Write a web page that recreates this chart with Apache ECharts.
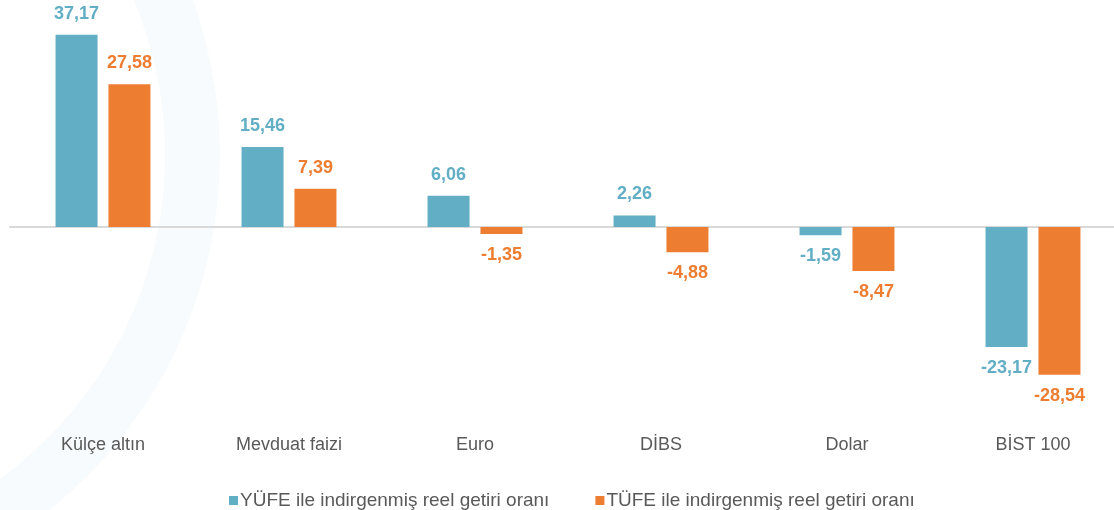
<!DOCTYPE html>
<html>
<head>
<meta charset="utf-8">
<script src="https://cdn.jsdelivr.net/npm/echarts@6/dist/echarts.min.js"></script>
<style>
  html, body { margin: 0; padding: 0; background: #ffffff; }
  #chart { width: 1114px; height: 510px; }
</style>
</head>
<body>
<div id="chart"></div>
<script>
// kategoriler ve seriler
var categories = ['Külçe altın', 'Mevduat faizi', 'Euro', 'DİBS', 'Dolar', 'BİST 100'];
var yufeValues = [37.17, 15.46, 6.06, 2.26, -1.59, -23.17];
var tufeValues = [27.58, 7.39, -1.35, -4.88, -8.47, -28.54];
var seriesNames = ['YÜFE ile indirgenmiş reel getiri oranı', 'TÜFE ile indirgenmiş reel getiri oranı'];

var blue = '#62AEC5';
var orange = '#ED7D31';

// negatif degerlerde etiket cubugun altina
function toItems(arr) {
  return arr.map(function (v) {
    return { value: v, label: { position: v < 0 ? 'bottom' : 'top' } };
  });
}

var chart = echarts.init(document.getElementById('chart'));

var labelStyle = function (color) {
  return {
    show: true,
    distance: 12,
    color: color,
    fontSize: 18,
    fontWeight: 'bold',
    fontFamily: 'Liberation Sans',
    formatter: function (p) { return String(p.value).replace('.', ','); }
  };
};

var option = {
  animation: false,
  backgroundColor: '#ffffff',
  // soluk filigran halkasi
  graphic: [{
    type: 'ring',
    z: -10,
    silent: true,
    shape: { cx: -235, cy: 155, r: 455, r0: 400 },
    style: { fill: '#f8fbfd' }
  }],
  grid: { left: 10, right: -12, top: 20, bottom: 81, outerBoundsMode: 'none' },
  legend: {
    left: 224,
    top: 486,
    itemWidth: 9,
    itemHeight: 9,
    itemGap: 46,
    icon: 'rect',
    textStyle: { color: '#595959', fontSize: 19, fontFamily: 'Liberation Sans', padding: [0, 0, 0, -3] },
    data: seriesNames
  },
  xAxis: [
    {
      type: 'category',
      data: categories,
      axisLine: { show: false, onZero: false },
      axisTick: { show: false },
      axisLabel: { color: '#595959', fontSize: 18, fontFamily: 'Liberation Sans', margin: 7 }
    },
    {
      type: 'category',
      data: categories,
      position: 'bottom',
      axisLine: { show: true, onZero: true, lineStyle: { color: '#d9d9d9', width: 2 } },
      axisTick: { show: false },
      axisLabel: { show: false }
    }
  ],
  yAxis: {
    type: 'value',
    min: -39,
    max: 40,
    show: false,
    splitLine: { show: false }
  },
  series: [
    {
      name: seriesNames[0],
      type: 'bar',
      barWidth: 42,
      barGap: '26%',
      itemStyle: { color: blue },
      label: labelStyle(blue),
      data: toItems(yufeValues)
    },
    {
      name: seriesNames[1],
      type: 'bar',
      barWidth: 42,
      barGap: '26%',
      itemStyle: { color: orange },
      label: labelStyle(orange),
      data: toItems(tufeValues)
    }
  ]
};

chart.setOption(option);
</script>
</body>
</html>
